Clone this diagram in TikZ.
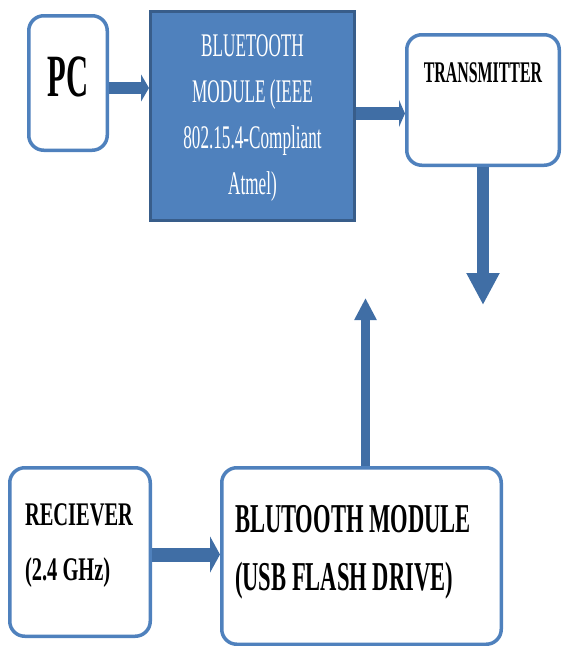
\documentclass[tikz,border=0pt]{standalone}
\usepackage{fontspec}
\setmainfont{Liberation Serif}
\usepackage{graphicx}
\usetikzlibrary{positioning,arrows.meta}

\definecolor{boxline}{RGB}{79,129,189}
\definecolor{boxdark}{RGB}{56,93,138}
\definecolor{flowblue}{RGB}{64,110,165}

\newcommand{\squeeze}[2]{\scalebox{#1}[1]{#2}}
\newcommand{\lift}[2]{\raisebox{0pt}[\height][\dimexpr\depth+#1*2\relax]{#2}}

\begin{document}
\begin{tikzpicture}[x=1pt,y=-1pt,
    block/.style={draw=boxline,line width=3.5pt,rounded corners=15pt,fill=white,inner sep=0pt},
    module/.style={draw=boxdark,line width=3pt,fill=boxline,text=white,inner sep=0pt},
    flow/.style={draw=flowblue,line width=12pt,-{Triangle[length=8pt,width=27pt]}},
    flowdown/.style={draw=flowblue,line width=12pt,-{Triangle[length=32pt,width=31pt]}},
    flowup/.style={draw=flowblue,line width=9pt,-{Triangle[length=22pt,width=21pt]}}]
    \useasboundingbox (0,0) rectangle (563,646);
    \node[block,minimum width=78.5pt,minimum height=134.5pt,font=\fontsize{60}{60}\selectfont\bfseries] (pc) at (68,83)
      {\lift{6pt}{\squeeze{0.51}{PC}}};
    \node[module,minimum width=204pt,minimum height=209pt,font=\fontsize{33}{46}\selectfont] (ble) at (252.5,116)
      {\squeeze{0.52}{\begin{tabular}{@{}c@{}}BLUETOOTH\\MODULE (IEEE\\802.15.4-Compliant\\Atmel)\end{tabular}}};
    \node[block,minimum width=152.5pt,minimum height=130.5pt,font=\fontsize{30}{36}\selectfont\bfseries] (tx) at (483,100)
      {\lift{27pt}{\squeeze{0.53}{TRANSMITTER}}};
    \node[block,minimum width=140.5pt,minimum height=168.5pt,font=\fontsize{33}{55}\selectfont\bfseries] (rx) at (80,552)
      {\lift{10.5pt}{\makebox[110pt][l]{\squeeze{0.62}{\begin{tabular}{@{}l@{}}RECIEVER\\(2.4 GHz)\end{tabular}}}}};
    \node[block,minimum width=279.5pt,minimum height=176.5pt,font=\fontsize{41}{58}\selectfont\bfseries] (usb) at (361.5,556)
      {\lift{6.6pt}{\makebox[253pt][l]{\squeeze{0.55}{\begin{tabular}{@{}l@{}}BLUTOOTH MODULE\\(USB FLASH DRIVE)\end{tabular}}}}};
    \coordinate (txend) at (483,305);
    \coordinate (usbend) at (365.5,298);
    \draw[flow] ([yshift=-5pt]pc.east) coordinate (pcout) -- (pcout -| ble.west);
    \draw[flow,line width=13pt,-{Triangle[length=6pt,width=27pt]}] ([yshift=2.5pt]ble.east) coordinate (bleout) -- (bleout -| tx.west);
    \draw[flow,line width=14pt,-{Triangle[length=10pt,width=36pt]}] ([yshift=-2.5pt]rx.east) coordinate (rxout) -- (rxout -| usb.west);
    \draw[flowdown] (tx.south) -- (txend);
    \draw[flowup] ([xshift=4pt]usb.north) -- (usbend);
\end{tikzpicture}
\end{document}
